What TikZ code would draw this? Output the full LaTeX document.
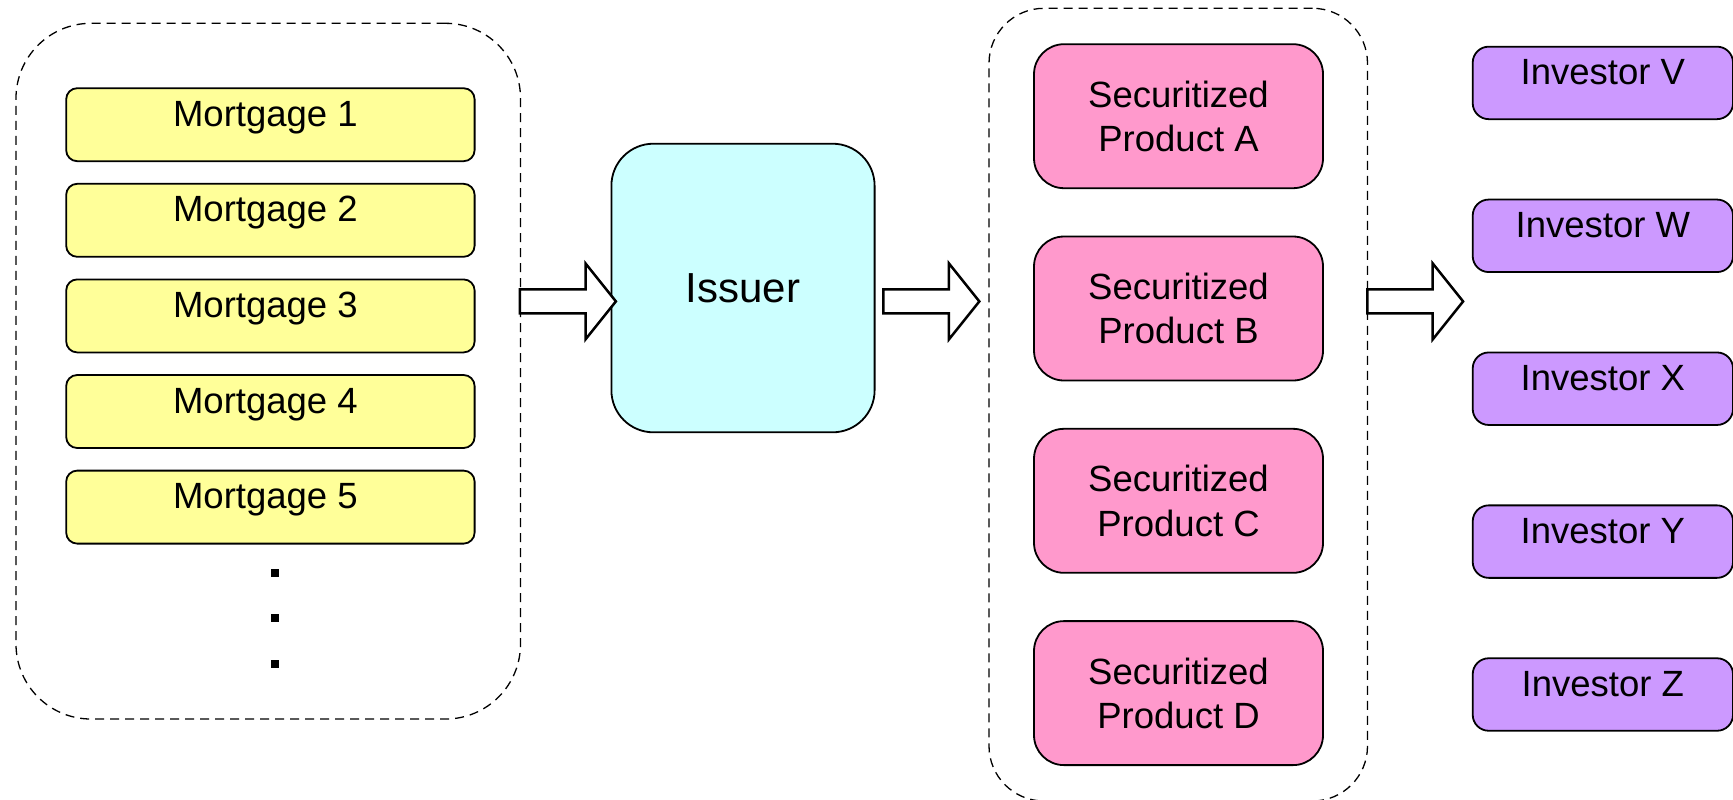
\documentclass[tikz,border=0pt]{standalone}
\usepackage{fontspec}
\setmainfont{Liberation Sans}
\usetikzlibrary{calc,fit}
\definecolor{mortyellow}{HTML}{FFFF99}
\definecolor{issuercyan}{HTML}{CCFFFF}
\definecolor{prodpink}{HTML}{FF99CC}
\definecolor{invpurple}{HTML}{CC99FF}
\newcommand{\drawblockarrow}[2]{%
  \draw[blockarr] let \p1=(#1), \p2=(#2) in
    (\x1,\y1+6pt) -- (\x2-15.2pt,\y1+6pt) -- (\x2-15.2pt,\y1+19pt) -- (\x2,\y1)
    -- (\x2-15.2pt,\y1-19pt) -- (\x2-15.2pt,\y1-6pt) -- (\x1,\y1-6pt) -- cycle;}
\newcommand{\mtext}[1]{\hspace*{-5pt}#1}
\begin{document}
\begin{tikzpicture}[x=0.5pt,y=-0.5pt,
  container/.style={draw, dash pattern=on 4.5pt off 3pt, line width=0.65pt, inner sep=0pt},
  basebox/.style={draw, line width=0.9pt, inner sep=0pt, font=\fontsize{18.25pt}{22.15pt}\selectfont},
  mortbox/.style={basebox, fill=mortyellow, rounded corners=5.5pt, minimum width=204.2pt, text height=19pt, text depth=17.5pt},
  issuerbox/.style={basebox, fill=issuercyan, rounded corners=21pt, minimum width=131.6pt, minimum height=144.3pt, font=\fontsize{21pt}{25pt}\selectfont},
  prodbox/.style={basebox, fill=prodpink, rounded corners=15pt, minimum width=144.5pt, minimum height=72pt, align=center},
  invbox/.style={basebox, fill=invpurple, rounded corners=8pt, minimum width=130.15pt, text height=19.15pt, text depth=17.1pt},
  dotsq/.style={fill=black, inner sep=0pt, minimum width=4pt, minimum height=3.8pt},
  blockarr/.style={draw, fill=white, line width=1.25pt, line join=miter}
]
\useasboundingbox (0,0) rectangle (1733,799);

% containers
\node[container, rounded corners=37.5pt, fit={(16,23.3) (520.5,719)}] (pool) {};
\node[container, rounded corners=27.5pt, fit={(989,8.3) (1367.5,801)}] (prodgroup) {};

% mortgages
\node[mortbox] (m1) at (270.4,124.7) {\mtext{Mortgage 1}};
\node[mortbox] (m2) at (270.4,220.3) {\mtext{Mortgage 2}};
\node[mortbox] (m3) at (270.4,315.9) {\mtext{Mortgage 3}};
\node[mortbox] (m4) at (270.4,411.5) {\mtext{Mortgage 4}};
\node[mortbox] (m5) at (270.4,507.1) {\mtext{Mortgage 5}};
\node[dotsq] (d1) at (275,573) {};
\node[dotsq] (d2) at (275,618) {};
\node[dotsq] (d3) at (275,664) {};

% issuer
\node[issuerbox] (issuer) at (743,288) {Issuer};

% products
\node[prodbox] (pA) at (1178.5,116.2) {Securitized\\Product A};
\node[prodbox] (pB) at (1178.5,308.5) {Securitized\\Product B};
\node[prodbox] (pC) at (1178.5,500.8) {Securitized\\Product C};
\node[prodbox] (pD) at (1178.5,693.1) {Securitized\\Product D};

% investors
\node[invbox] (iV) at (1602.85,82.9) {Investor V};
\node[invbox] (iW) at (1602.85,235.8) {Investor W};
\node[invbox] (iX) at (1602.85,388.7) {Investor X};
\node[invbox] (iY) at (1602.85,541.6) {Investor Y};
\node[invbox] (iZ) at (1602.85,694.5) {Investor Z};

% block arrows
\coordinate (arrowrow) at (0,301.4);
\coordinate (a1s) at ([xshift=-0.6pt]pool.east |- arrowrow);
\coordinate (a1e) at ([xshift=2.7pt]issuer.west |- arrowrow);
\coordinate (a2s) at ([xshift=3.95pt]issuer.east |- arrowrow);
\coordinate (a2e) at ([xshift=-4.5pt]prodgroup.west |- arrowrow);
\coordinate (a3s) at ([xshift=-0.4pt]prodgroup.east |- arrowrow);
\coordinate (a3e) at ([xshift=-4.35pt]iV.west |- arrowrow);
\drawblockarrow{a1s}{a1e}
\drawblockarrow{a2s}{a2e}
\drawblockarrow{a3s}{a3e}
\end{tikzpicture}
\end{document}
